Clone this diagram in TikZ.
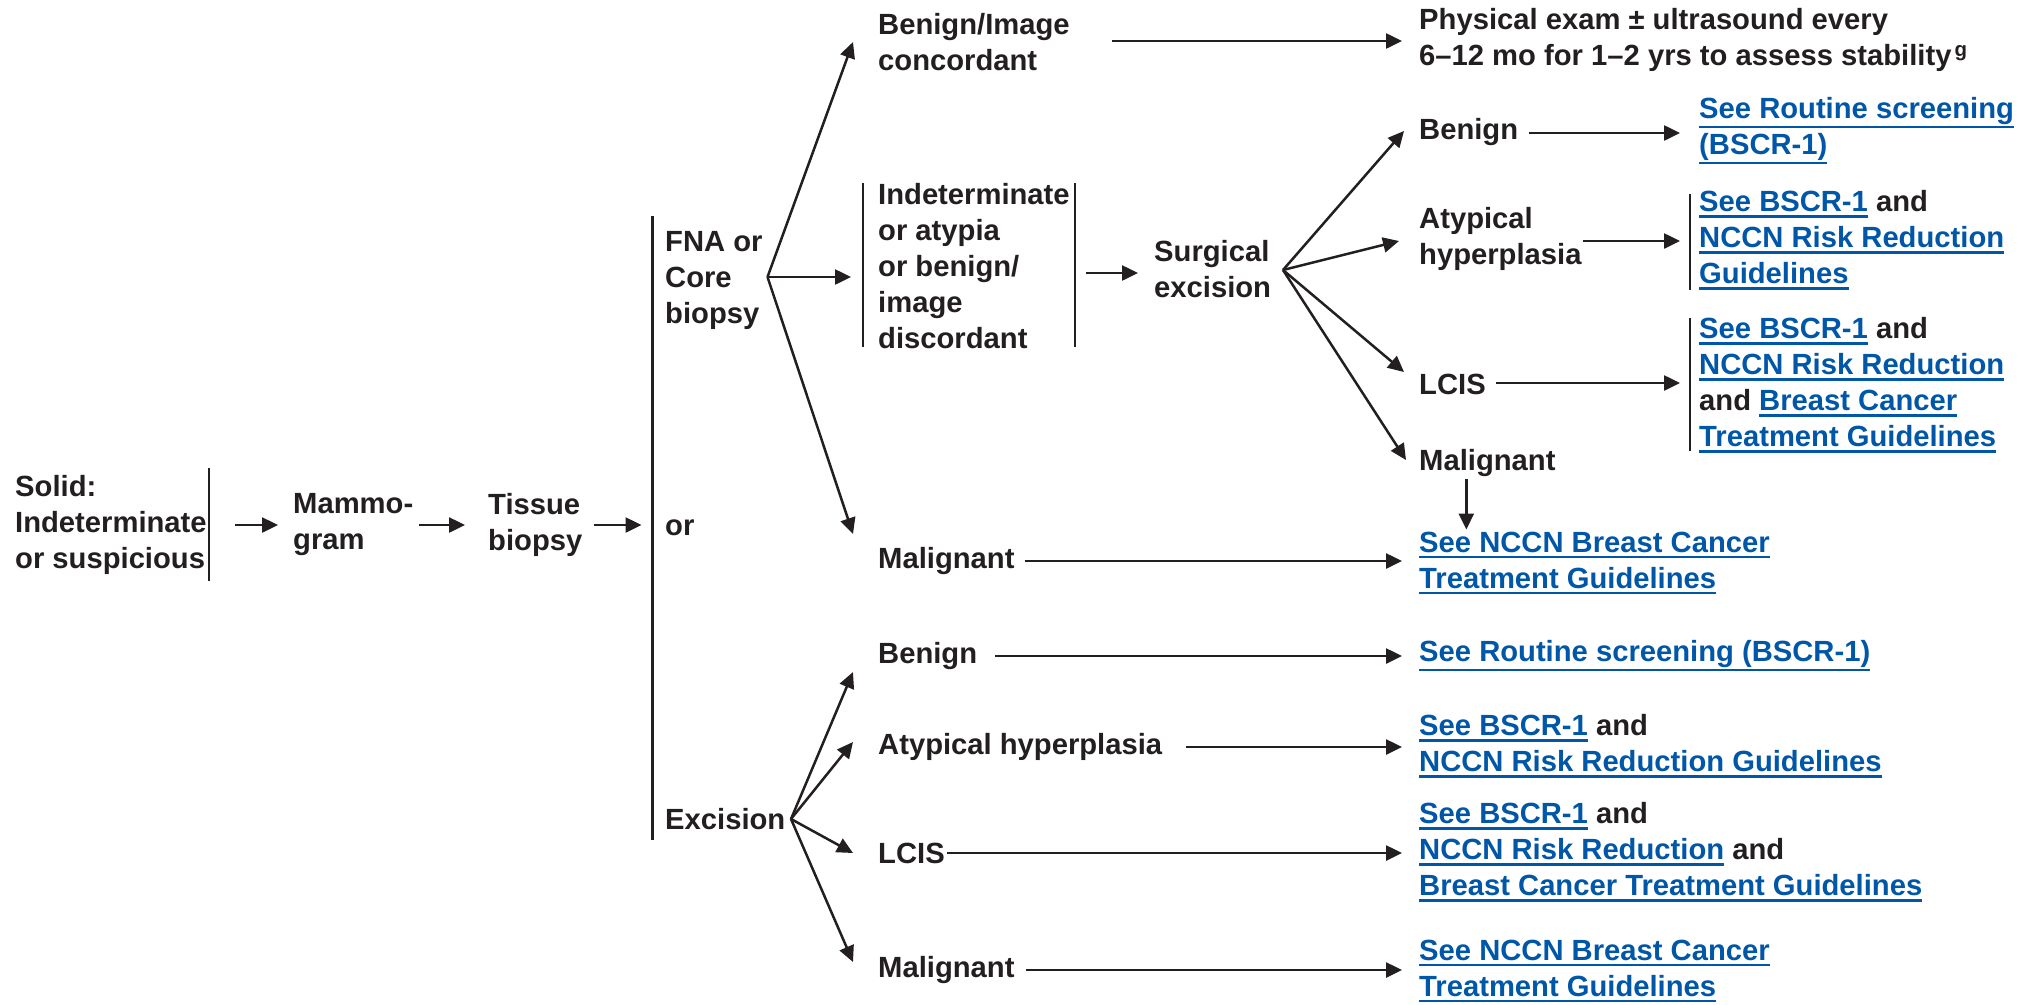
\documentclass[tikz,border=0pt]{standalone}
\usepackage{fontspec}
\setmainfont{Liberation Sans}
\usetikzlibrary{arrows.meta,calc}
\definecolor{ink}{HTML}{231F20}
\definecolor{linkblue}{HTML}{0057A8}
% underlined blue reference text
\newcommand\lnk[1]{{\color{linkblue}\setbox0=\hbox{#1}%
  \dimen0=\dp0 \ifdim\dimen0<3pt \dimen0=3pt\fi \advance\dimen0 by 1pt
  \rlap{\vrule width\wd0 height-\dimen0 depth\dimexpr\dimen0+2.2pt\relax}\box0}}
\begin{document}
\begin{tikzpicture}[x=1pt,y=-1pt,
  txt/.style={anchor=west,inner sep=0pt,align=left,text=ink,
    font=\fontsize{29.2}{36}\selectfont\bfseries},
  arr/.style={draw=ink,line width=2.5pt,-{Triangle[length=16pt,width=15pt]}},
  bar/.style={draw=ink,line width=2.2pt}]
\useasboundingbox[fill=white] (0,0) rectangle (2026,1004);

% entry row
\node[txt] (solid) at (15,525) {Solid:\\Indeterminate\\or suspicious};
\draw[bar] (209,468) -- (209,581);
\node[txt] (mammo) at (293,525) {Mammo-\\gram};
\node[txt] (tissue) at (488,525) {Tissue\\biopsy};
\draw[bar] (652.5,216) -- (652.5,840);
\coordinate (bigbar) at (652.5,525);
\draw[arr] ($(solid.east)+(28,0)$) -- ($(mammo.west)+(-15,0)$);
\draw[arr] ($(mammo.east)+(6,0)$) -- ($(tissue.west)+(-23,0)$);
\draw[arr] ($(tissue.east)+(11,0)$) -- ($(bigbar)+(-11,0)$);

\node[txt] (fna) at (665,280) {FNA or\\Core\\biopsy};
\node[txt] (or) at (665,528) {or};
\node[txt] (exc) at (665,819) {Excision};

% FNA / core biopsy branch
\node[txt] (bic) at (878,42) {Benign/Image\\concordant};
\node[txt] (phys) at (1419,40) {Physical exam ± ultrasound every\\6–12 mo for 1–2 yrs to assess stability\kern3pt\textsuperscript{g}};
\node[txt] (indet) at (878,266) {Indeterminate\\or atypia\\or benign/\\image\\discordant};
\draw[bar] (863,183) -- (863,347);
\draw[bar] (1075,183) -- (1075,347);
\node[txt] (surg) at (1154,269) {Surgical\\excision};
\node[txt] (mal1) at (878,561) {Malignant};

\coordinate (fnafork) at (767.5,277);
\draw[arr] (fnafork) -- ($(bic.west)+(-25,0)$);
\draw[arr] (fnafork) -- ($(indet.west)+(-27,11)$);
\draw[arr] (fnafork) -- ($(mal1.west)+(-25,-27)$);
\draw[arr] ($(bic.east)+(42,-1)$) -- ($(bic.east -| phys.west)+(-17,-1)$);
\draw[arr] ($(indet.east)+(16,7)$) -- ($(indet.east -| surg.west)+(-16,7)$);

% surgical excision outcomes
\node[txt] (ben1) at (1419,132) {Benign};
\node[txt] (rs1) at (1699,131) {\lnk{See Routine screening}\\\lnk{(BSCR-1)}};
\node[txt] (aty1) at (1419,239) {Atypical\\hyperplasia};
\node[txt] (ar1) at (1699,240) {\lnk{See BSCR-1} and\\\lnk{NCCN Risk Reduction}\\\lnk{Guidelines}};
\draw[bar] (1690,194) -- (1690,290);
\node[txt] (lcis1) at (1419,384) {LCIS};
\node[txt] (lr1) at (1699,385) {\lnk{See BSCR-1} and\\\lnk{NCCN Risk Reduction}\\and \lnk{Breast Cancer}\\\lnk{Treatment Guidelines}};
\draw[bar] (1690,318) -- (1690,451);
\node[txt] (mal2) at (1419,463) {Malignant};
\node[txt] (bc1) at (1419,563) {\lnk{See NCCN Breast Cancer}\\\lnk{Treatment Guidelines}};

\coordinate (surgfork) at (1283,270);
\draw[arr] (surgfork) -- ($(ben1.west)+(-15,-1)$);
\draw[arr] (surgfork) -- ($(aty1.west)+(-20,2)$);
\draw[arr] (surgfork) -- ($(lcis1.west)+(-15,-12)$);
\draw[arr] (surgfork) -- ($(mal2.west)+(-13,-3)$);
\draw[arr] ($(ben1.east)+(11,1)$) -- ($(ben1.east -| rs1.west)+(-19,1)$);
\draw[arr] ($(aty1.east)+(1,2)$) -- ($(aty1.east -| ar1.west)+(-19,2)$);
\draw[arr] ($(lcis1.east)+(10,-1)$) -- ($(lcis1.east -| lr1.west)+(-19,-1)$);
\coordinate (m2d) at ($(mal2.south)+(-21,0)$);
\draw[arr] ($(m2d)+(0,2)$) -- ($(m2d |- bc1.north)+(0,-2)$);
\draw[arr] ($(mal1.east)+(10,0)$) -- ($(mal1.east -| bc1.west)+(-17,0)$);

% excision branch
\node[txt] (ben2) at (878,656) {Benign};
\node[txt] (rs2) at (1419,656) {\lnk{See Routine screening (BSCR-1)}};
\node[txt] (aty2) at (878,747) {Atypical hyperplasia};
\node[txt] (ar2) at (1419,746) {\lnk{See BSCR-1} and\\\lnk{NCCN Risk Reduction Guidelines}};
\node[txt] (lcis2) at (878,853) {LCIS};
\node[txt] (lr2) at (1419,852) {\lnk{See BSCR-1} and\\\lnk{NCCN Risk Reduction} and\\\lnk{Breast Cancer Treatment Guidelines}};
\node[txt] (mal3) at (878,970) {Malignant};
\node[txt] (bc2) at (1419,971) {\lnk{See NCCN Breast Cancer}\\\lnk{Treatment Guidelines}};

\coordinate (excfork) at (791,819);
\draw[arr] (excfork) -- ($(ben2.west)+(-25,16)$);
\draw[arr] (excfork) -- ($(aty2.west)+(-25,-5)$);
\draw[arr] (excfork) -- ($(lcis2.west)+(-25,0)$);
\draw[arr] (excfork) -- ($(mal3.west)+(-25,-8)$);
\draw[arr] ($(ben2.east)+(18,0)$) -- ($(ben2.east -| rs2.west)+(-17,0)$);
\draw[arr] ($(aty2.east)+(24,0)$) -- ($(aty2.east -| ar2.west)+(-17,0)$);
\draw[arr] ($(lcis2.east)+(2,0)$) -- ($(lcis2.east -| lr2.west)+(-17,0)$);
\draw[arr] ($(mal3.east)+(11,0)$) -- ($(mal3.east -| bc2.west)+(-17,0)$);
\end{tikzpicture}
\end{document}
